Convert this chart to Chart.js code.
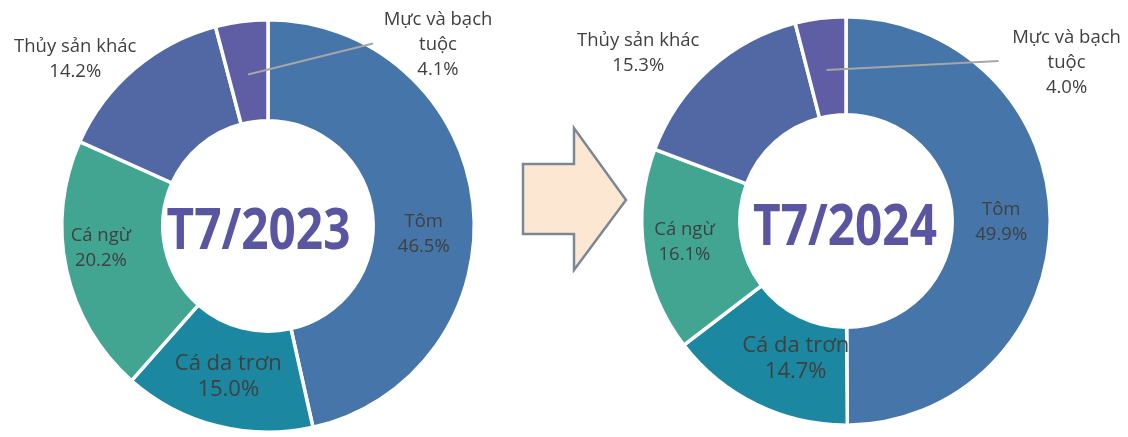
<!DOCTYPE html>
<html>
<head>
<meta charset="utf-8">
<script src="https://cdn.jsdelivr.net/npm/chart.js@4"></script>
<style>
  html, body { margin: 0; padding: 0; background: #fff; }
  #wrap { position: relative; width: 1128px; height: 437px; overflow: hidden; }
  .box { position: absolute; top: 0; width: 564px; height: 437px; }
  #arrow { position: absolute; left: 0; top: 0; }
</style>
</head>
<body>
<div id="wrap">
  <div class="box" style="left:0"><canvas id="chart2023"></canvas></div>
  <div class="box" style="left:564px"><canvas id="chart2024"></canvas></div>
  <svg id="arrow" width="1128" height="437">
    <polygon points="523,164 574,164 574,128 626,200 574,270 574,234 523,234"
      fill="#FCE8D2" stroke="#7B8796" stroke-width="2.5" stroke-linejoin="miter"/>
  </svg>
</div>
<script>
var categories = ["Tôm", "Cá da trơn", "Cá ngừ", "Thủy sản khác", "Mực và bạch tuộc"];
var values2023 = [46.5, 15.0, 20.2, 14.2, 4.1];
var values2024 = [49.9, 14.7, 16.1, 15.3, 4.0];
var periodLabels = ["T7/2023", "T7/2024"];

var sliceColors = ["#4575A9", "#1B87A0", "#41A591", "#5268A4", "#5F5DA3"];

// how each category name is broken on the chart
var labelLines = [["Tôm"], ["Cá da trơn"], ["Cá ngừ"], ["Thủy sản khác"], ["Mực và bạch", "tuộc"]];
var labelBig = [false, true, false, false, false];

// label offsets from the arc centre point, per chart
var labelOffsets2023 = [[1, 25], [-1, 0], [-15, -11], [-92, -48], [190, -27]];
var labelOffsets2024 = [[0, 2], [18, -2], [-8, -2], [-104, -52], [240, -4]];
// leader line end, relative to label centre (only for the small slice)
var leaderEnd2023 = [-65, -1];
var leaderEnd2024 = [-68, -2];
// title position relative to donut centre (x centre, baseline)
var titleOffset2023 = [-9.5, 23];
var titleOffset2024 = [-1, 23.5];

var labelPlugin = {
  id: "sliceLabels",
  afterDatasetsDraw: function (chart, args, opts) {
    var ctx = chart.ctx;
    var meta = chart.getDatasetMeta(0);
    var values = chart.data.datasets[0].data;
    var first = meta.data[0];
    var cx = first.x, cy = first.y;

    ctx.save();
    // centre title
    ctx.fillStyle = "#5A55A0";
    ctx.font = "bold 57px 'Open Sans'";
    ctx.textAlign = "center";
    ctx.textBaseline = "alphabetic";
    var w = ctx.measureText(opts.title).width;
    var sx = 184 / w;
    ctx.translate(cx + opts.titleOffset[0], cy + opts.titleOffset[1]);
    ctx.scale(sx, 1);
    ctx.fillText(opts.title, 0, 0);
    ctx.restore();

    ctx.save();
    ctx.textAlign = "center";
    ctx.textBaseline = "middle";
    meta.data.forEach(function (arc, i) {
      var p = arc.getCenterPoint();
      var off = opts.offsets[i];
      var lx = p.x + off[0];
      var ly = p.y + off[1];
      var lines = labelLines[i].concat([values[i].toFixed(1) + "%"]);
      var big = labelBig[i];
      var lh = big ? 26 : 25;
      ctx.font = (big ? "22px" : "18.5px") + " 'Open Sans'";
      ctx.fillStyle = "#404040";
      var top = ly - (lines.length - 1) * lh / 2;
      lines.forEach(function (t, k) {
        ctx.fillText(t, lx, top + k * lh);
      });
      if (i === 4) {
        ctx.strokeStyle = "#A6A6A6";
        ctx.lineWidth = 2;
        ctx.beginPath();
        ctx.moveTo(p.x, p.y + 3);
        ctx.lineTo(lx + opts.leader[0], ly + opts.leader[1]);
        ctx.stroke();
      }
    });
    ctx.restore();
  }
};

function makeDonut(id, values, title, padding, cutout, offsets, leader, titleOffset) {
  var ctx = document.getElementById(id);
  new Chart(ctx, {
    type: "doughnut",
    data: {
      labels: categories,
      datasets: [
        {
          data: values,
          backgroundColor: sliceColors,
          borderColor: "#FFFFFF",
          borderWidth: 3.5,
        },
      ],
    },
    options: {
      responsive: true,
      maintainAspectRatio: false,
      animation: false,
      cutout: cutout,
      layout: { padding: padding },
      plugins: {
        legend: { display: false },
        tooltip: { enabled: false },
        sliceLabels: { title: title, offsets: offsets, leader: leader, titleOffset: titleOffset },
      },
    },
    plugins: [labelPlugin],
  });
}

makeDonut("chart2023", values2023, periodLabels[0],
  { left: 60, top: 18, right: 88, bottom: 3 }, "51%", labelOffsets2023, leaderEnd2023, titleOffset2023);
makeDonut("chart2024", values2024, periodLabels[1],
  { left: 76, top: 15, right: 76, bottom: 10 }, "52%", labelOffsets2024, leaderEnd2024, titleOffset2024);
</script>
</body>
</html>
